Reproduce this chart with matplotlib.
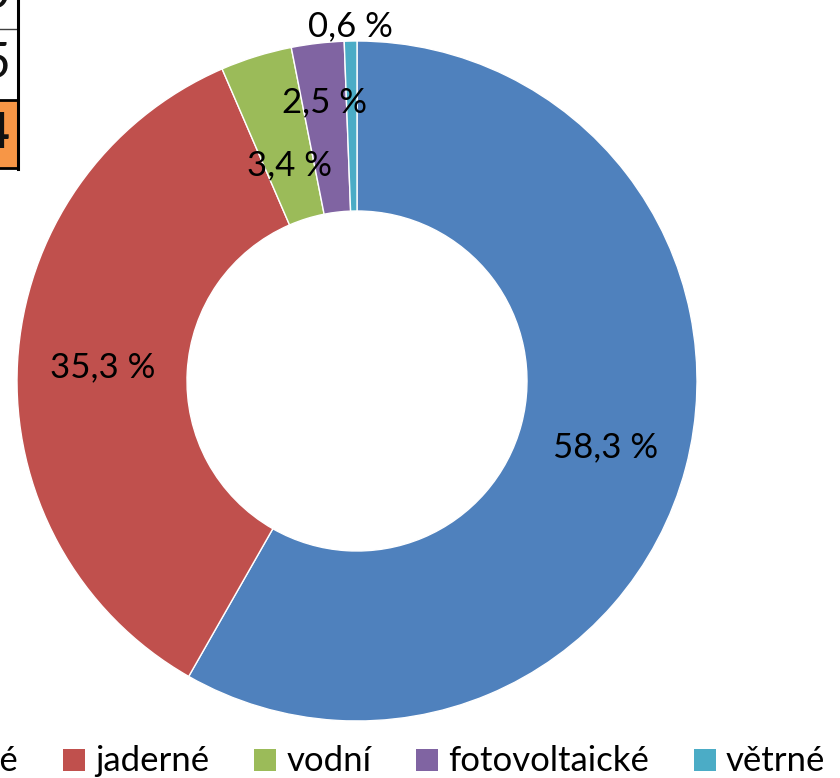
import matplotlib
matplotlib.use("Agg")
import matplotlib.pyplot as plt
from matplotlib.patches import Rectangle
import numpy as np

# ---- data ----
categories = ["tepelné", "jaderné", "vodní", "fotovoltaické", "větrné"]
values = [58.3, 35.3, 3.4, 2.5, 0.6]
colors = ["#4F81BD", "#C0504D", "#9BBB59", "#8064A2", "#4BACC6"]
label_radius = [0.757, 0.75, 0.665, 0.825, 1.045]
table_digits = ["0", "5", "4"]

FONT = "Lato"
W, H = 840, 778
fig = plt.figure(figsize=(W / 100, H / 100), dpi=100)

# pie axes: center (357, 381) px, radius 340 px
cx, cy, R = 357, 381, 340
ax = fig.add_axes([(cx - R) / W, 1 - (cy + R) / H, 2 * R / W, 2 * R / H])
wedges, _ = ax.pie(values, colors=colors, startangle=90, counterclock=False,
                   radius=1.0, wedgeprops=dict(width=0.5, edgecolor="white", linewidth=1.0))
ax.set_xlim(-1, 1)
ax.set_ylim(-1, 1)
ax.set_aspect("equal")
ax.axis("off")

for w, v, r in zip(wedges, values, label_radius):
    ang = np.deg2rad((w.theta1 + w.theta2) / 2)
    txt = f"{v:.1f} %".replace(".", ",")
    ax.text(r * np.cos(ang), r * np.sin(ang), txt, ha="center", va="center",
            fontsize=25, family=FONT, color="black", clip_on=False)

# ---- table fragment top-left ----
def fy(ypx):
    return 1 - ypx / H

fig.patches.append(Rectangle((0, fy(168)), 18 / W, (168 - 100) / H, transform=fig.transFigure,
                             facecolor="#F79646", edgecolor="none", zorder=1))
fig.lines.append(plt.Line2D([0, 18 / W], [fy(29), fy(29)], transform=fig.transFigure,
                            color="#404040", lw=1.0))
fig.lines.append(plt.Line2D([0, 18 / W], [fy(100), fy(100)], transform=fig.transFigure,
                            color="black", lw=2.0))
fig.lines.append(plt.Line2D([0, 18 / W], [fy(168), fy(168)], transform=fig.transFigure,
                            color="black", lw=2.0))
fig.lines.append(plt.Line2D([18 / W, 18 / W], [fy(0), fy(169)], transform=fig.transFigure,
                            color="black", lw=2.2))
row_centers = [-6, 64, 134]
for d, yc, bold in zip(table_digits, row_centers, [False, False, True]):
    fig.text(10 / W, fy(yc), d, ha="right", va="center", fontsize=36, family=FONT,
             fontweight="bold" if bold else "normal", color="#111111")

# ---- legend (manual, first entry cut by left edge) ----
renderer = fig.canvas.get_renderer()
base_y = fy(771)
texts = []
for c in categories:
    t = fig.text(0, base_y, c, ha="left", va="baseline", fontsize=25, family=FONT, color="black")
    texts.append(t)
widths = [t.get_window_extent(renderer).width for t in texts]
sq, gap1, gap2 = 22, 10, 45
# position so that first text ends at x=18 px
x = 18 - widths[0] - gap1 - sq
for t, c, wdt in zip(texts, colors, widths):
    fig.patches.append(Rectangle((x / W, fy(771)), sq / W, sq / H, transform=fig.transFigure,
                                 facecolor=c, edgecolor="none"))
    t.set_x((x + sq + gap1) / W)
    x = x + sq + gap1 + wdt + gap2

fig.savefig("out.png", dpi=100)
